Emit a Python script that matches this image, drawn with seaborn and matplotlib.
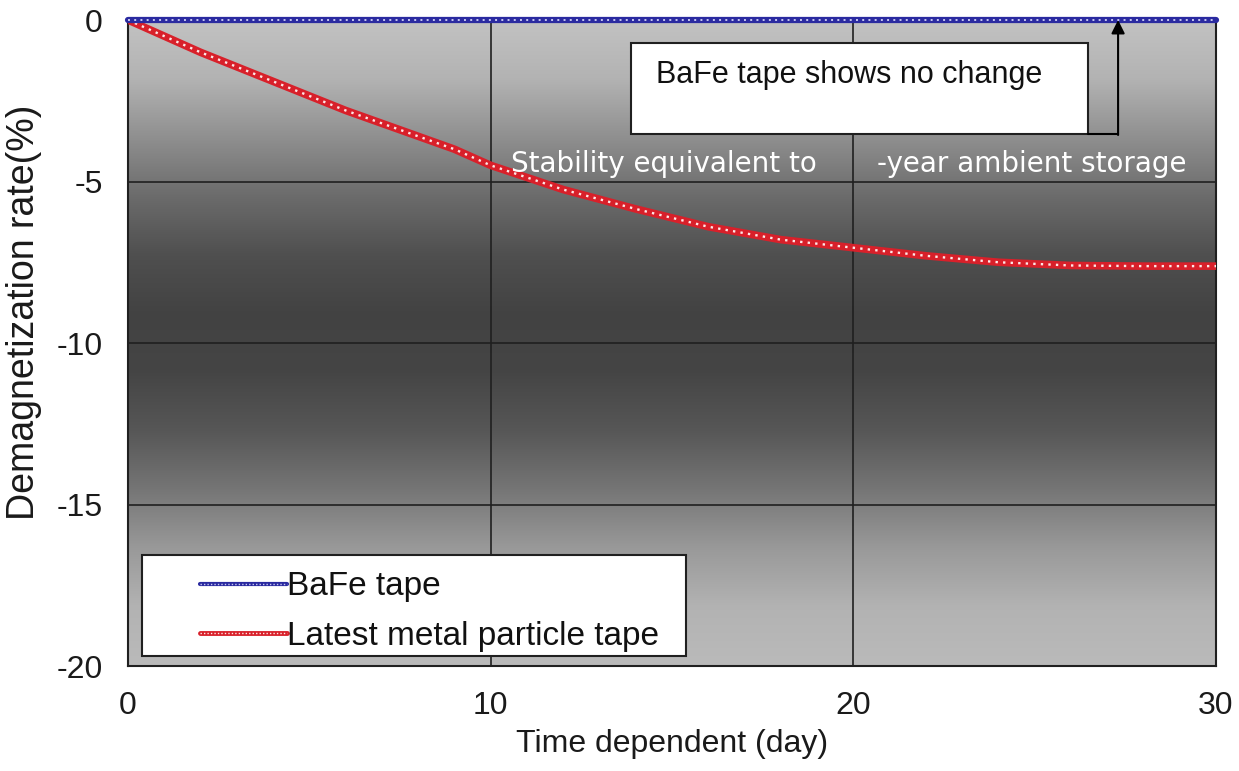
import numpy as np
import pandas as pd
import matplotlib
matplotlib.use("Agg")
import matplotlib.pyplot as plt
import seaborn as sns
from matplotlib.legend_handler import HandlerTuple
from matplotlib.patches import Rectangle

# ---- data ----
days = [0, 1, 2, 3, 4, 5, 6, 7, 8, 9, 10, 12, 14, 16, 18, 20, 22, 24, 26, 28, 30]
bafe = [0.0] * len(days)
mp = [0.0, -0.5, -1.0, -1.45, -1.9, -2.35, -2.8, -3.2, -3.6, -4.0, -4.5,
      -5.25, -5.85, -6.4, -6.8, -7.05, -7.3, -7.5, -7.6, -7.62, -7.62]
series_labels = ["BaFe tape", "Latest metal particle tape"]
xticks = [0, 10, 20, 30]
yticks = [0, -5, -10, -15, -20]

df = pd.DataFrame({"day": days * 2,
                   "rate": bafe + mp,
                   "tape": [series_labels[0]] * len(days) + [series_labels[1]] * len(days)})

sns.set_style("white")
plt.rcParams['font.family'] = ['Liberation Sans', 'DejaVu Sans']
plt.rcParams['axes.unicode_minus'] = False

fig = plt.figure(figsize=(12.39, 7.71), dpi=100)
ax = fig.add_axes([128/1239, 1-666/771, 1088/1239, 646/771])

# gradient background
grad = np.array([0.76, 0.70, 0.56, 0.42, 0.31, 0.26, 0.27, 0.34, 0.46, 0.60, 0.70, 0.73])
g = np.interp(np.linspace(0, 1, 256), np.linspace(0, 1, len(grad)), grad)
col = np.repeat(g[:, None], 2, axis=1)
img = np.dstack([col, col, col])
ax.imshow(img, extent=[0, 30, -20, 0], aspect='auto', zorder=0, interpolation='bilinear')

ax.set_xlim(0, 30)
ax.set_ylim(-20, 0)
ax.set_xticks(xticks)
ax.set_yticks(yticks)
ax.grid(True, color='#202020', linewidth=1.2, zorder=1)

d_b = df[df.tape == series_labels[0]]
d_m = df[df.tape == series_labels[1]]
sns.lineplot(data=d_b, x="day", y="rate", ax=ax, color='#2a2aa0', linewidth=4.5,
             zorder=5, legend=False, clip_on=False)
ax.plot(days, bafe, color='#c8c8f0', linewidth=1.4, linestyle=(0, (1, 2.2)), zorder=5.5,
        clip_on=False)
sns.lineplot(data=d_m, x="day", y="rate", ax=ax, color='#d8202a', linewidth=5.5,
             zorder=4, legend=False)
ax.plot(days, mp, color='#ffe8e8', linewidth=1.7, linestyle=(0, (1, 2.2)), zorder=4.5)

for s in ax.spines.values():
    s.set_color('#202020')
    s.set_linewidth(1.5)
    s.set_visible(True)

ax.tick_params(axis='both', labelsize=23, length=0, pad=18, labelcolor='#1a1a1a')
ax.set_xlabel("Time dependent (day)", fontsize=23, labelpad=6, color='#1a1a1a')
ax.set_ylabel("Demagnetization rate(%)", fontsize=27, color='#1a1a1a')
ax.yaxis.set_label_coords((42 - 128) / 1088, (666 - 312) / 646)

# annotation box with arrow
ax.add_patch(Rectangle((13.87, -3.54), 12.6, 2.83, facecolor='white', edgecolor='#202020',
                       linewidth=1.5, zorder=7))
ax.text(14.55, -1.7, "BaFe tape shows no change", fontsize=22, color='#111111',
        va='center', ha='left', zorder=8)
ax.plot([26.47, 27.3], [-3.54, -3.54], color='black', linewidth=1.5, zorder=7)
ax.annotate("", xy=(27.3, 0.0), xytext=(27.3, -3.56), annotation_clip=False,
            arrowprops=dict(arrowstyle='-|>', color='black', lw=1.5, mutation_scale=20,
                            shrinkA=0, shrinkB=0),
            zorder=7)

ax.text(10.55, -4.45, "Stability equivalent to", fontsize=20, color='white',
        family='DejaVu Sans', va='center', ha='left', zorder=8)
ax.text(20.65, -4.45, "-year ambient storage", fontsize=20, color='white',
        family='DejaVu Sans', va='center', ha='left', zorder=8)

# legend frame (box as in reference)
ax.add_patch(Rectangle((142, 771 - 656), 544, 101, transform=None, facecolor='white',
                       edgecolor='#202020', linewidth=1.5, zorder=8.5))
l_b1, = ax.plot([], [], color='#2a2aa0', linewidth=3)
l_b2, = ax.plot([], [], color='#c8c8f0', linewidth=1.0, linestyle=(0, (1, 1.5)))
l_m1, = ax.plot([], [], color='#d8202a', linewidth=3.5)
l_m2, = ax.plot([], [], color='#ffe8e8', linewidth=1.0, linestyle=(0, (1, 1.5)))
leg = ax.legend([(l_b1, l_b2), (l_m1, l_m2)], series_labels, loc='lower left',
                bbox_to_anchor=((200 - 128) / 1088, 0.022), frameon=False,
                fontsize=24, handlelength=2.6, handletextpad=0.0, borderpad=0.0,
                labelspacing=0.55, borderaxespad=0,
                handler_map={tuple: HandlerTuple(ndivide=1, pad=0)})
leg.set_zorder(9)
for t in leg.get_texts():
    t.set_color('#111111')

fig.savefig("out.png", dpi=100, facecolor='white')
